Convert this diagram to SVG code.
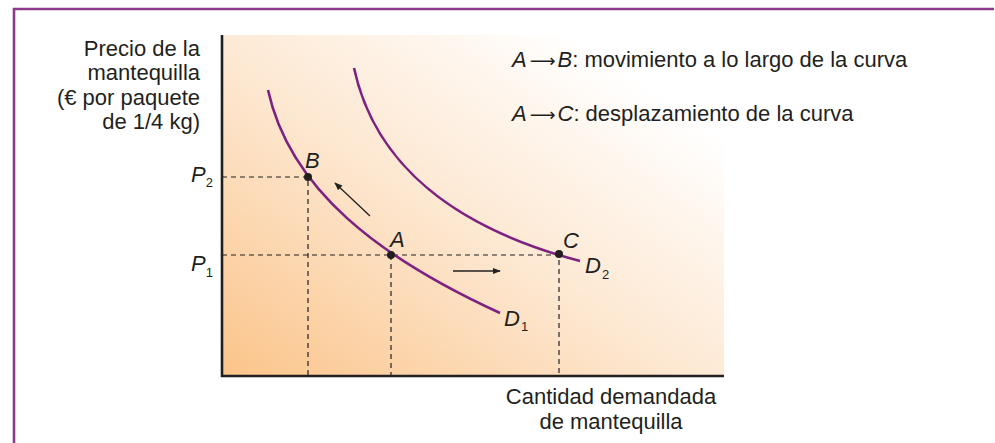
<svg xmlns="http://www.w3.org/2000/svg" width="995" height="443" viewBox="0 0 995 443">
<defs>
<linearGradient id="bg" x1="0" y1="1" x2="1" y2="0">
<stop offset="0" stop-color="#fbc48a"/>
<stop offset="0.45" stop-color="#fde7d0"/>
<stop offset="0.85" stop-color="#ffffff"/>
</linearGradient>
<marker id="ah" viewBox="0 0 10 10" refX="9" refY="5" markerWidth="8" markerHeight="8" orient="auto" markerUnits="userSpaceOnUse">
<path d="M0,1 L10,5 L0,9 Z" fill="#222"/>
</marker>
</defs>
<style>
.t{font-family:"Liberation Sans",Arial,sans-serif;font-size:22px;fill:#231f20}
.i{font-style:italic}
.sub{font-size:13px}
.ar{font-family:"DejaVu Sans",sans-serif;font-size:18px}
.dash{stroke:#231f20;stroke-width:1.2;stroke-dasharray:5,4;fill:none}
.curve{stroke:#7d2181;stroke-width:2.6;fill:none}
.axis{stroke:#231f20;stroke-width:2.6;fill:none}
.dot{fill:#231f20}
.arr{stroke:#231f20;stroke-width:1.3;fill:none}
</style>
<rect width="995" height="443" fill="#ffffff"/>
<g id="frame">
<path d="M14,443 L14,9 L994,9" stroke="#8d3a8a" stroke-width="2.6" fill="none"/>
</g>
<g id="plot-area">
<rect x="222" y="35" width="502" height="341" fill="url(#bg)"/>
</g>
<g id="connectors">
<path class="dash" d="M222,177 H308 V376"/>
<path class="dash" d="M222,255 H559 V376"/>
<path class="dash" d="M391,255 V376"/>
<path class="arr" d="M370,216 L335,183" marker-end="url(#ah)"/>
<path class="arr" d="M453,271 L500,271" marker-end="url(#ah)"/>
</g>
<g id="curve-D1">
<path class="curve" d="M268,90 C290,190 380,258 500,313"/>
<text class="t i" x="504" y="326">D<tspan class="sub" font-style="normal" dx="1" dy="5">1</tspan></text>
</g>
<g id="curve-D2">
<path class="curve" d="M354,68 C375,165 455,228 580,261"/>
<text class="t i" x="585" y="273">D<tspan class="sub" font-style="normal" dx="1" dy="6">2</tspan></text>
</g>
<g id="axes">
<path class="axis" d="M222,35 V376 H724"/>
</g>
<g id="point-B">
<circle class="dot" cx="308" cy="177" r="4"/>
<text class="t i" x="305" y="168">B</text>
</g>
<g id="point-A">
<circle class="dot" cx="391" cy="255" r="4"/>
<text class="t i" x="390" y="247">A</text>
</g>
<g id="point-C">
<circle class="dot" cx="559" cy="254" r="4"/>
<text class="t i" x="563" y="248">C</text>
</g>
<g id="label-P2">
<text class="t i" x="191" y="182">P<tspan class="sub" font-style="normal" dx="0" dy="5">2</tspan></text>
</g>
<g id="label-P1">
<text class="t i" x="191" y="271">P<tspan class="sub" font-style="normal" dx="0" dy="6">1</tspan></text>
</g>
<g id="y-label">
<text class="t" text-anchor="end" x="200" y="56">Precio de la</text>
<text class="t" text-anchor="end" x="200" y="80">mantequilla</text>
<text class="t" text-anchor="end" x="200" y="105">(€ por paquete</text>
<text class="t" text-anchor="end" x="200" y="129">de 1/4 kg)</text>
</g>
<g id="x-label">
<text class="t" text-anchor="middle" x="611" y="404">Cantidad demandada</text>
<text class="t" text-anchor="middle" x="611" y="429">de mantequilla</text>
</g>
<g id="legend">
<text class="t" x="512" y="67"><tspan class="i">A</tspan><tspan class="ar" dx="3">⟶</tspan><tspan class="i" dx="2">B</tspan>: movimiento a lo largo de la curva</text>
<text class="t" x="512" y="121"><tspan class="i">A</tspan><tspan class="ar" dx="3">⟶</tspan><tspan class="i" dx="2">C</tspan>: desplazamiento de la curva</text>
</g>
</svg>
